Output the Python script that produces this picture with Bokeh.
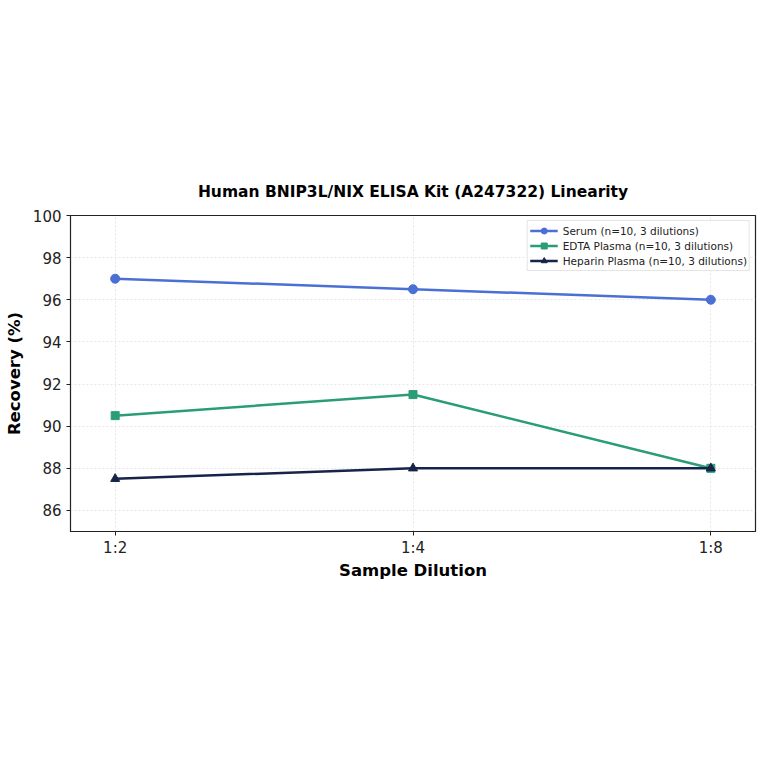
from bokeh.plotting import figure
from bokeh.models import FixedTicker, Range1d, Legend, LegendItem
from bokeh.embed import file_html
from bokeh.resources import INLINE

dilutions = ["1:2", "1:4", "1:8"]
serum = [97.0, 96.5, 96.0]
edta = [90.5, 91.5, 88.0]
heparin = [87.5, 88.0, 88.0]
y_ticks = [86, 88, 90, 92, 94, 96, 98, 100]

xs = list(range(len(dilutions)))

p = figure(width=758, height=758, output_backend="svg", toolbar_location=None,
           x_range=Range1d(-0.15, 2.15), y_range=Range1d(85, 100),
           min_border_left=70, min_border_right=3, min_border_top=215, min_border_bottom=227)

font = "DejaVu Sans"
p.title.text = "Human BNIP3L/NIX ELISA Kit (A247322) Linearity"
p.title.align = "center"
p.title.text_font = font
p.title.text_font_size = "15.5px"
p.title.text_font_style = "bold"
p.title.text_color = "black"
p.title.standoff = 29

p.xaxis.ticker = FixedTicker(ticks=xs)
p.xaxis.major_label_overrides = {i: d for i, d in enumerate(dilutions)}
p.yaxis.ticker = FixedTicker(ticks=y_ticks)
p.xaxis.axis_label = "Sample Dilution"
p.yaxis.axis_label = "Recovery (%)"
for ax in (p.xaxis, p.yaxis):
    ax.axis_label_text_font = font
    ax.axis_label_text_font_size = "16.5px"
    ax.axis_label_text_font_style = "bold"
    ax.axis_label_text_color = "black"
    ax.major_label_text_font = font
    ax.major_label_text_font_size = "15px"
    ax.major_label_text_color = "#222222"
    ax.major_tick_in = 0
    ax.major_tick_out = 4
    ax.minor_tick_line_color = None
    ax.axis_line_color = "#222222"
    ax.major_tick_line_color = "#222222"
p.xaxis.major_label_standoff = 3
p.xaxis.axis_label_standoff = 1
p.yaxis.axis_label_standoff = 6

p.outline_line_color = "#222222"
p.outline_line_width = 1.2
p.grid.grid_line_color = "#dddddd"
p.grid.grid_line_alpha = 0.7
p.grid.grid_line_dash = "2 2"

series = [
    ("Serum (n=10, 3 dilutions)", serum, "#4A70D6", "circle", 9),
    ("EDTA Plasma (n=10, 3 dilutions)", edta, "#2A9D78", "square", 8),
    ("Heparin Plasma (n=10, 3 dilutions)", heparin, "#172348", "triangle", 9),
]
items = []
for label, vals, color, marker, size in series:
    l = p.line(xs, vals, line_color=color, line_width=2.5)
    m = p.scatter(xs, vals, marker=marker, size=size, fill_color=color, line_color=color)
    items.append(LegendItem(label=label, renderers=[l, m]))

legend = Legend(items=items, location="top_right")
legend.label_text_font = font
legend.label_text_font_size = "10.5px"
legend.label_text_color = "#222222"
legend.glyph_width = 28
legend.glyph_height = 15
legend.spacing = 0
legend.padding = 2
legend.margin = 5
legend.label_height = 15
legend.border_line_color = "#cccccc"
legend.background_fill_alpha = 0.85
p.add_layout(legend)

open("out.html", "w").write(file_html(p, INLINE))
